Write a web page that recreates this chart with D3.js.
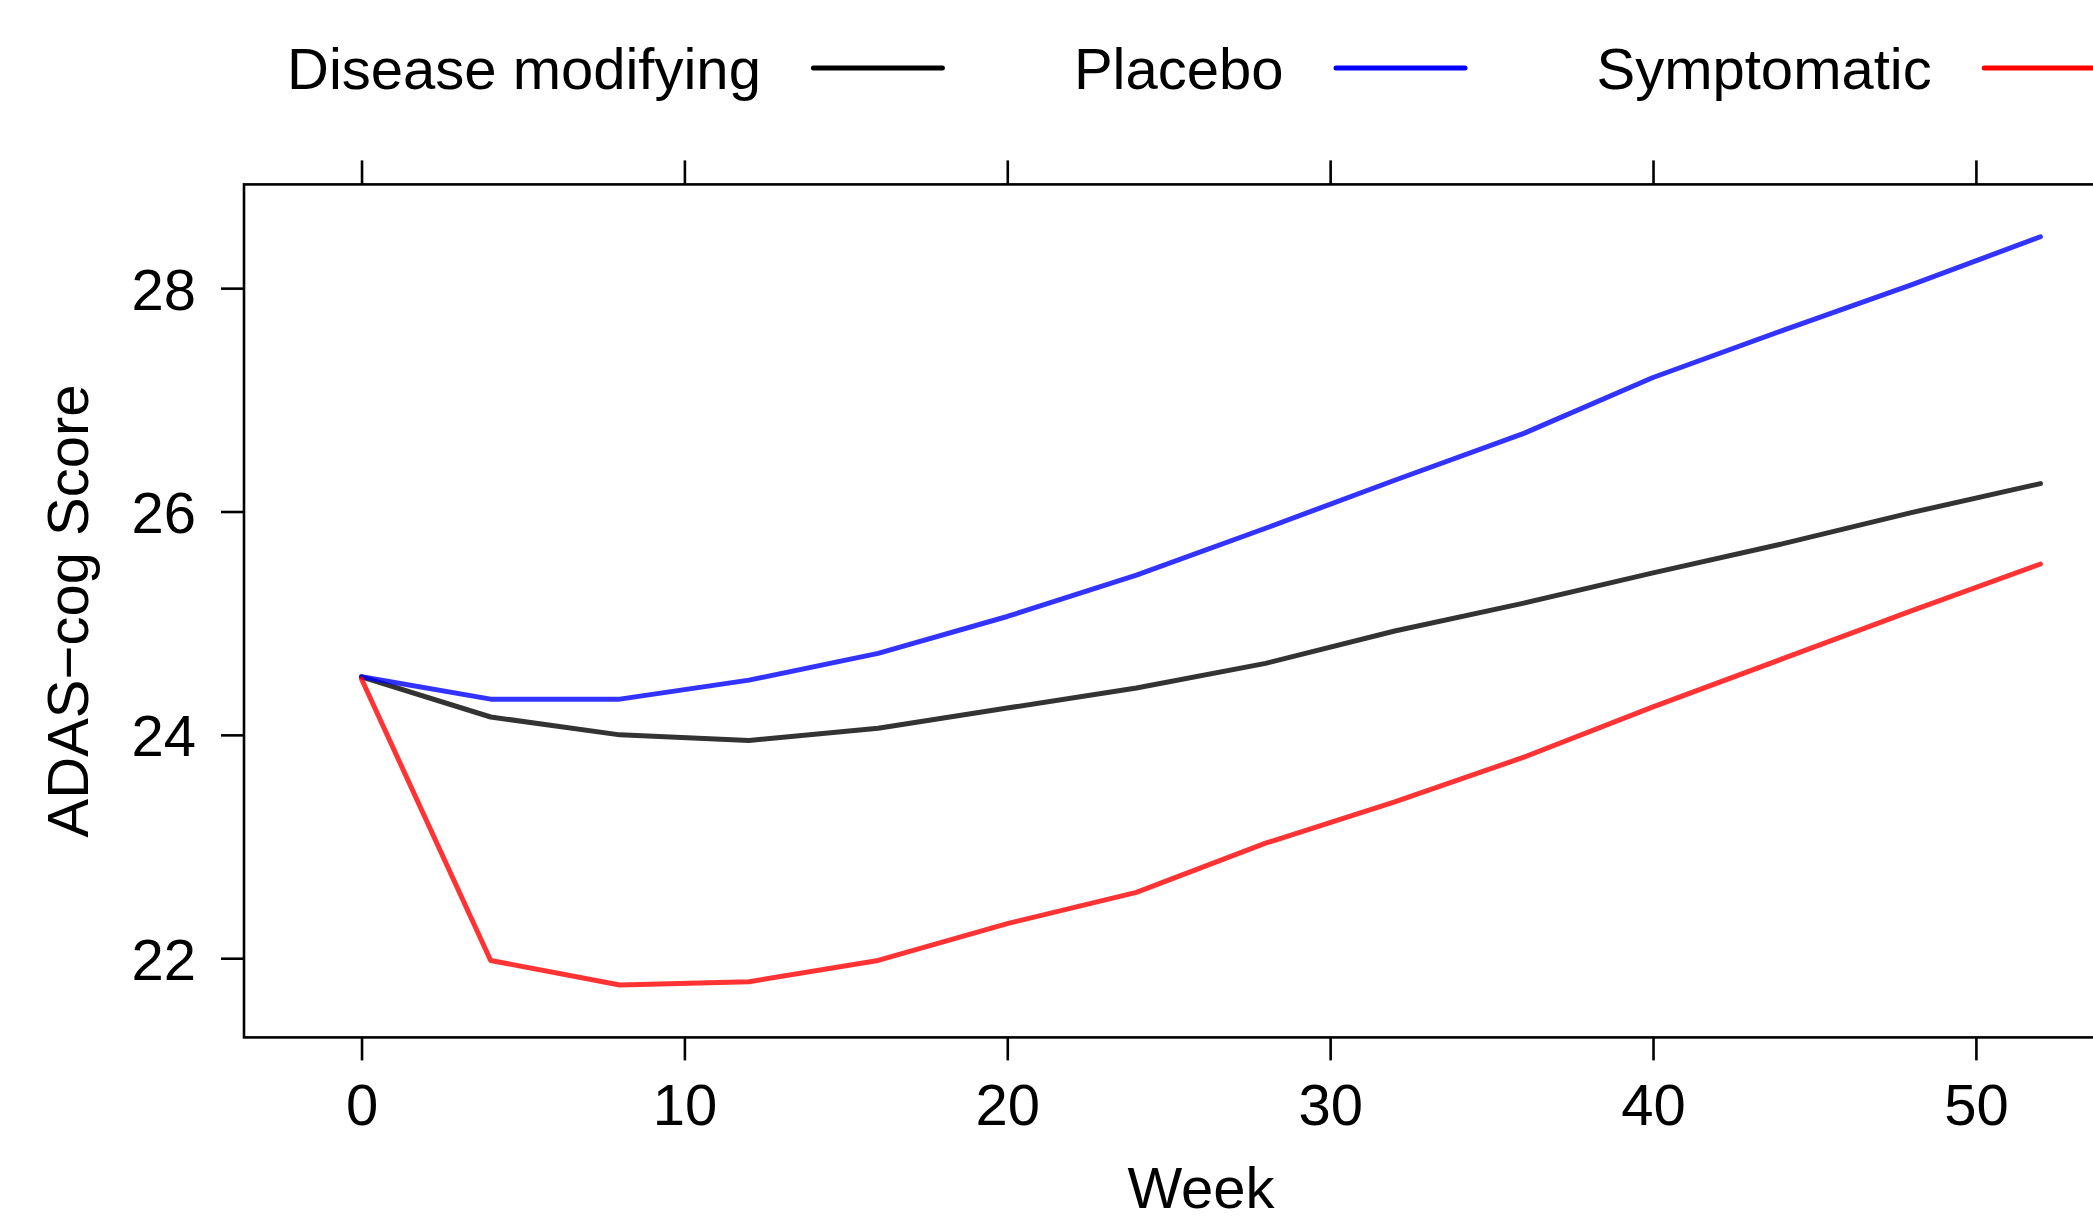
<!DOCTYPE html>
<html>
<head>
<meta charset="utf-8">
<title>ADAS-cog Score by Week</title>
<style>
  body { margin: 0; background: #fff; }
  svg { display: block; font-family: "Liberation Sans", Arial, sans-serif; }
  .frame { fill: none; stroke: #000; stroke-width: 2.6px; }
  .axis path { display: none; }
  .axis line { stroke: #000; stroke-width: 2.6px; }
  .axis text { fill: #000; font-size: 58px; font-family: "Liberation Sans", Arial, sans-serif; }
  .line { fill: none; stroke-width: 5px; stroke-linecap: round; stroke-linejoin: round; stroke-opacity: 0.8; }
</style>
</head>
<body>
<svg width="2093" height="1216"></svg>
<script src="https://cdn.jsdelivr.net/npm/d3@7"></script>
<script>
// visit weeks
var weeks = [0, 4, 8, 12, 16, 20, 24, 28, 32, 36, 40, 44, 48, 52];

// mean ADAS-cog per group
var diseaseModifying = [24.52, 24.16, 24.00, 23.95, 24.06, 24.24, 24.42, 24.64, 24.93, 25.18, 25.45, 25.71, 25.99, 26.25];
var placebo          = [24.52, 24.32, 24.32, 24.49, 24.73, 25.06, 25.43, 25.85, 26.28, 26.70, 27.20, 27.62, 28.03, 28.46];
var symptomatic      = [24.50, 21.98, 21.76, 21.79, 21.98, 22.31, 22.59, 23.03, 23.40, 23.80, 24.25, 24.68, 25.11, 25.53];

var groupNames  = ["Disease modifying", "Placebo", "Symptomatic"];
var groupColors = ["#000000", "#0000ff", "#ff0000"];
var xTicks = [0, 10, 20, 30, 40, 50];
var yTicks = [22, 24, 26, 28];

var series = [diseaseModifying, placebo, symptomatic].map(function(vals, i) {
  return {
    name: groupNames[i],
    color: groupColors[i],
    values: weeks.map(function(w, j) { return { week: w, score: vals[j] }; })
  };
});

var svg = d3.select("svg");

// panel box (right edge runs off the page, as in the original)
var box = { left: 244, right: 2158, top: 184.4, bottom: 1037.4 };

// lattice-style 7% padding on both sides of the data range
function padded(ext) {
  var p = (ext[1] - ext[0]) * 0.07;
  return [ext[0] - p, ext[1] + p];
}
var allScores = d3.merge([diseaseModifying, placebo, symptomatic]);

var x = d3.scaleLinear().domain(padded(d3.extent(weeks))).range([box.left, box.right]);
var y = d3.scaleLinear().domain(padded(d3.extent(allScores))).range([box.bottom, box.top]);

// Axes
svg.append("g")
    .attr("class", "axis")
    .attr("transform", "translate(0," + box.bottom + ")")
    .call(d3.axisBottom(x).tickValues(xTicks).tickSize(23).tickSizeOuter(0).tickPadding(23));

svg.append("g")
    .attr("class", "axis")
    .attr("transform", "translate(0," + box.top + ")")
    .call(d3.axisTop(x).tickValues(xTicks).tickSize(24).tickSizeOuter(0).tickFormat(""));

svg.append("g")
    .attr("class", "axis")
    .attr("transform", "translate(" + box.left + ",0)")
    .call(d3.axisLeft(y).tickValues(yTicks).tickSize(23).tickSizeOuter(0).tickPadding(25))
  .selectAll("text")
    .attr("dy", "0.36em");

svg.append("rect")
    .attr("class", "frame")
    .attr("x", box.left)
    .attr("y", box.top)
    .attr("width", box.right - box.left)
    .attr("height", box.bottom - box.top);

// Lines
var line = d3.line()
    .x(function(d) { return x(d.week); })
    .y(function(d) { return y(d.score); });

svg.selectAll(".line")
    .data(series)
  .enter().append("path")
    .attr("class", "line")
    .attr("stroke", function(d) { return d.color; })
    .attr("d", function(d) { return line(d.values); });

// Axis titles
svg.append("text")
    .attr("x", (box.left + box.right) / 2)
    .attr("y", 1208)
    .attr("text-anchor", "middle")
    .style("font-size", "58px")
    .text("Week");

svg.append("text")
    .attr("transform", "translate(88," + ((box.top + box.bottom) / 2) + ") rotate(-90)")
    .attr("text-anchor", "middle")
    .style("font-size", "58px")
    .text("ADAS\u2212cog Score");

// Legend on top: text, then a short line sample
var legend = svg.append("g");
var lx = 287;
series.forEach(function(s) {
  var t = legend.append("text")
      .attr("x", lx)
      .attr("y", 89)
      .style("font-size", "58px")
      .text(s.name);
  var w = t.node().getComputedTextLength();
  var l0 = lx + w + 50;
  legend.append("line")
      .attr("x1", l0 + 2.5)
      .attr("x2", l0 + 134 - 2.5)
      .attr("y1", 68)
      .attr("y2", 68)
      .attr("stroke", s.color)
      .attr("stroke-width", 5)
      .attr("stroke-linecap", "round");
  lx = l0 + 134 + 129;
});
</script>
</body>
</html>
